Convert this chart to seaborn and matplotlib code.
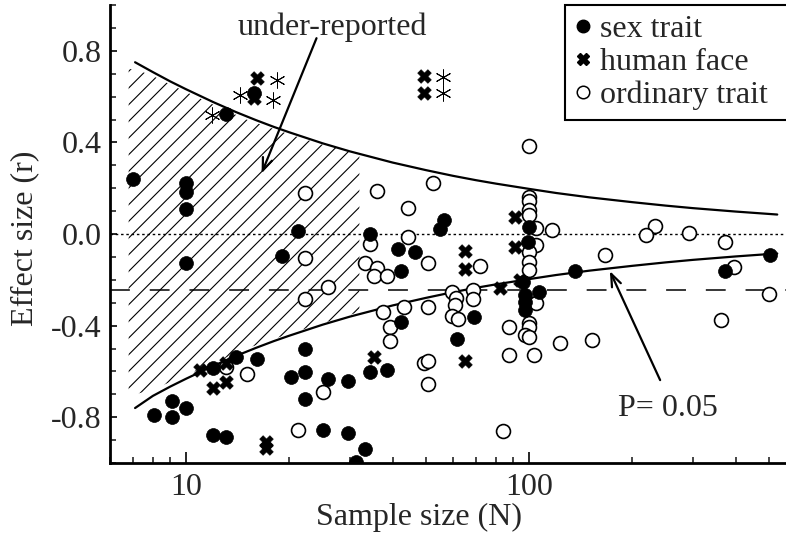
import numpy as np
import pandas as pd
import matplotlib
matplotlib.use("Agg")
import matplotlib.pyplot as plt
import seaborn as sns
from matplotlib.lines import Line2D
from matplotlib.patches import Rectangle

# ---------------- data ----------------
sex_N = [7.02, 10, 10, 10, 10, 13.1, 15.8, 21.2, 19.0, 22.2, 16.1, 14.0, 12.0, 20.2, 22.2,
         26.0, 29.7, 22.2, 9.08, 10, 9.08, 8.07, 25.1, 29.7, 12.0, 13.1, 33.3, 31.2, 34.4,
         41.4, 46.5, 42.2, 56.6, 55.0, 42.2, 69.1, 61.5, 34.4, 38.4, 100, 99, 96, 97, 97,
         97, 107, 136, 372, 505]
sex_r = [0.24, 0.221, 0.185, 0.108, -0.128, 0.523, 0.615, 0.015, -0.096, -0.50, -0.547,
         -0.538, -0.586, -0.623, -0.604, -0.633, -0.64, -0.72, -0.729, -0.761, -0.80, -0.79,
         -0.856, -0.87, -0.878, -0.888, -0.94, -0.995, 0.0, -0.067, -0.08, -0.16, 0.061, 0.02,
         -0.383, -0.364, -0.46, -0.601, -0.594, 0.032, -0.034, -0.208, -0.266, -0.296, -0.332,
         -0.252, -0.16, -0.16, -0.092]

face_N = [16.1, 49.5, 49.5, 15.8, 91, 91, 94, 82.2, 64.9, 64.9, 35.2, 64.9, 13.1, 13.1,
          11.0, 12.0, 17.1, 17.1]
face_r = [0.68, 0.69, 0.617, 0.595, 0.076, -0.055, -0.20, -0.237, -0.073, -0.153, -0.536,
          -0.555, -0.562, -0.645, -0.594, -0.674, -0.907, -0.936]

ord_N = [22.2, 100, 52.6, 36.1, 44.5, 100, 100, 100, 100, 105, 117, 44.5, 34.4, 33.3, 36.1,
         35.2, 38.4, 50.7, 72, 105, 100, 100, 100, 105, 100, 100, 97, 100, 103, 87.5, 87.5,
         122.7, 37.5, 43.2, 50.7, 59.5, 61.3, 61, 59.5, 62.2, 68.7, 68.7, 39.3, 39.3, 49.5,
         50.7, 50.7, 84.2, 22.2, 26.0, 22.2, 15.1, 13.1, 25.1, 21.2, 233, 219, 293, 372, 167,
         396, 499, 363, 153]
ord_r = [0.18, 0.384, 0.221, 0.188, 0.115, 0.163, 0.144, 0.105, 0.083, 0.028, 0.017, -0.015,
         -0.044, -0.128, -0.15, -0.183, -0.183, -0.128, -0.138, -0.048, -0.077, -0.121, -0.157,
         -0.303, -0.39, -0.405, -0.441, -0.448, -0.528, -0.528, -0.405, -0.477, -0.342, -0.32,
         -0.317, -0.252, -0.281, -0.31, -0.358, -0.371, -0.245, -0.285, -0.405, -0.467, -0.565,
         -0.555, -0.656, -0.86, -0.106, -0.23, -0.285, -0.611, -0.58, -0.691, -0.856, 0.035,
         -0.004, 0.006, -0.034, -0.092, -0.143, -0.263, -0.376, -0.463]

star_N = [18.4, 14.37, 17.97, 11.88, 56.2, 56.2]
star_r = [0.672, 0.607, 0.585, 0.52, 0.684, 0.617]

curve_N = [7.1, 8, 9, 10, 12, 14, 16, 18, 20, 25, 30, 40, 50, 60, 70, 80, 100, 120, 150,
           200, 250, 300, 400, 529]
curve_up = [0.75, 0.707, 0.666, 0.632, 0.576, 0.532, 0.497, 0.468, 0.444, 0.396, 0.361, 0.312,
            0.279, 0.254, 0.235, 0.220, 0.197, 0.179, 0.160, 0.139, 0.124, 0.113, 0.098, 0.085]
curve_lo = [-0.76, -0.707, -0.666, -0.632, -0.576, -0.532, -0.497, -0.468, -0.444, -0.396,
            -0.361, -0.312, -0.279, -0.254, -0.235, -0.220, -0.197, -0.179, -0.160, -0.139,
            -0.124, -0.113, -0.098, -0.085]

hatch_N = [6.8, 7.1, 8, 10, 12, 15, 20, 25, 32]
hatch_top = [0.72, 0.72, 0.69, 0.62, 0.565, 0.50, 0.435, 0.39, 0.35]
hatch_bot = [-0.69, -0.70, -0.68, -0.615, -0.565, -0.50, -0.435, -0.39, -0.34]

null_r = 0.0
mean_r = -0.243

x_ticks = [10, 100]
y_ticks = [-0.8, -0.4, 0.0, 0.4, 0.8]
y_ticklabels = ["-0.8", "-0.4", "0.0", "0.4", "0.8"]
legend_labels = ["sex trait", "human face", "ordinary trait"]

# ---------------- style ----------------
sns.set_style("ticks")
plt.rcParams["font.family"] = ["Liberation Serif", "DejaVu Serif"]
plt.rcParams["axes.unicode_minus"] = False
plt.rcParams["hatch.linewidth"] = 0.8
FS = 23

W, H = 786, 537
fig = plt.figure(figsize=(W / 100, H / 100), dpi=100)
ax = fig.add_axes([110 / W, 1 - 463 / H, 676 / W, 458 / H])

ax.fill_between(hatch_N, hatch_bot, hatch_top, facecolor="white", edgecolor="black",
                hatch="//", linewidth=0, zorder=1)

ax.axhline(null_r, color="black", lw=1.0, ls=(0, (1.8, 2.0)), zorder=2)
ax.axhline(mean_r, color="black", lw=1.1, ls=(0, (13, 13)), zorder=2)

curves = pd.DataFrame({"N": curve_N * 2, "r": curve_up + curve_lo,
                       "side": ["up"] * len(curve_N) + ["lo"] * len(curve_N)})
sns.lineplot(data=curves, x="N", y="r", units="side", estimator=None, color="black",
             lw=1.6, ax=ax, zorder=3, legend=False)

ms = 100
sns.scatterplot(x=ord_N, y=ord_r, marker="o", s=ms, facecolor="white", edgecolor="black",
                linewidth=1.2, ax=ax, zorder=4)
sns.scatterplot(x=sex_N, y=sex_r, marker="o", s=ms, color="black", edgecolor="black",
                linewidth=0.5, ax=ax, zorder=5)
sns.scatterplot(x=face_N, y=face_r, marker="X", s=95, color="black", edgecolor="black",
                linewidth=0.5, ax=ax, zorder=5)
ax.scatter(star_N, star_r, marker=(6, 2, 0), s=120, color="black", linewidths=0.7, zorder=5)

ax.set_xscale("log")
ax.set_xlim(6.0, 561)
ax.set_ylim(-1.0, 1.0)
ax.set_xticks(x_ticks)
ax.set_xticklabels([str(t) for t in x_ticks])
ax.set_yticks(y_ticks)
ax.set_yticklabels(y_ticklabels)
ax.set_yticks(np.arange(-1.0, 1.01, 0.1), minor=True)
ax.tick_params(axis="both", which="major", direction="in", length=8, width=1.4,
               labelsize=FS, pad=7)
ax.tick_params(axis="both", which="minor", direction="in", length=4, width=1.2)
ax.tick_params(axis="y", which="major", length=5, pad=6)
for s in ["top", "right"]:
    ax.spines[s].set_visible(False)
for s in ["left", "bottom"]:
    ax.spines[s].set_linewidth(2.0)
    ax.spines[s].set_color("black")

ax.set_xlabel("Sample size (N)", fontsize=FS)
ax.set_ylabel("Effect size (r)", fontsize=FS)
ax.xaxis.set_label_coords((419 - 110) / 676, (463 - 517) / 458)
ax.yaxis.set_label_coords((25 - 110) / 676, 0.49)
ax.xaxis.label.set_va("center")
ax.yaxis.label.set_va("center")

arrow = dict(arrowstyle="->,head_length=0.9,head_width=0.35", lw=1.6, color="black",
             shrinkA=0, shrinkB=0)
ax.text(26.7, 0.904, "under-reported", fontsize=FS, ha="center", va="center", zorder=6)
ax.annotate("", xy=(16.6, 0.265), xytext=(24.0, 0.855), arrowprops=arrow, zorder=6)
ax.text(254, -0.76, "P= 0.05", fontsize=FS, ha="center", va="center", zorder=6)
ax.annotate("", xy=(172, -0.162), xytext=(241, -0.638), arrowprops=arrow, zorder=6)

handles = [
    Line2D([], [], ls="", marker="o", ms=9, mfc="black", mec="black"),
    Line2D([], [], ls="", marker="X", ms=9, mfc="black", mec="black"),
    Line2D([], [], ls="", marker="o", ms=9, mfc="white", mec="black", mew=1.1),
]
leg = ax.legend(handles, legend_labels, loc="upper left",
                bbox_to_anchor=((565 - 110) / 676, 1.0), borderaxespad=0, fontsize=FS,
                frameon=False, handlelength=0.5, handletextpad=0.3,
                labelspacing=0.12, borderpad=0.3)
leg.set_zorder(10)

# the legend box runs off the right edge of the picture in the reference
fig.canvas.draw()
bb = leg.get_window_extent().transformed(fig.transFigure.inverted())
box = Rectangle((bb.x0, bb.y0), 1.05 - bb.x0, bb.height, transform=fig.transFigure,
                facecolor="white", edgecolor="black", linewidth=1.5, zorder=9,
                clip_on=False)
fig.add_artist(box)
leg.remove()
fig.add_artist(leg)
leg.set_zorder(11)

fig.savefig("out.png", dpi=100)
